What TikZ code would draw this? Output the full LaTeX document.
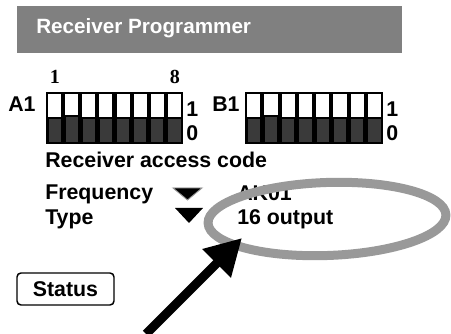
\documentclass[tikz,border=0pt]{standalone}
\usepackage{fontspec}
\setmainfont{Liberation Sans}
\newfontfamily\serifdigits{Liberation Serif}
\usetikzlibrary{arrows.meta}

\definecolor{bargray}{RGB}{128,128,128}
\definecolor{ringgray}{RGB}{153,153,153}
\definecolor{knobdark}{RGB}{58,58,58}

\begin{document}
\begin{tikzpicture}[x=0.75pt,y=0.75pt,yscale=-1,xscale=1,
  lbl/.style={anchor=base west,inner sep=0pt,font=\fontsize{16}{18}\selectfont\bfseries},
  swnum/.style={anchor=base,inner sep=0pt,font=\fontsize{15}{16}\serifdigits\bfseries},
  swup/.style={fill=white},
  swdown/.style={fill=knobdark}]
%set diagram to 451 x 334
\useasboundingbox (0,0) rectangle (451,334);

%Shape: Rectangle [title bar]
\fill [bargray] (17,6) rectangle (402,53);
\node [lbl,text=white,font=\fontsize{15.5}{18}\selectfont\bfseries] (title) at (36,34) {Receiver Programmer};

%Text [switch positions]
\node [swnum] (first) at (55,84) {1};
\node [swnum] (last) at (175,84) {8};

%Shape: Rectangle [A1 switch block]
\node [lbl] (labA) at (8,112) {A1};
\fill [black] (46,92) rectangle (183,144);
\fill [swup] (48,94) rectangle (61,117);    \fill [swdown] (48.5,119) rectangle (60.5,142);
\fill [swup] (65.1,94) rectangle (78.1,115.5); \fill [swdown] (65.6,117.5) rectangle (77.6,142);
\fill [swup] (82.2,94) rectangle (95.2,117); \fill [swdown] (82.7,119) rectangle (94.7,142);
\fill [swup] (99.4,94) rectangle (112.4,117); \fill [swdown] (99.9,119) rectangle (111.9,142);
\fill [swup] (116.5,94) rectangle (129.5,117); \fill [swdown] (117,119) rectangle (129,142);
\fill [swup] (133.6,94) rectangle (146.6,117); \fill [swdown] (134.1,119) rectangle (146.1,142);
\fill [swup] (150.7,94) rectangle (163.7,117); \fill [swdown] (151.2,119) rectangle (163.2,142);
\fill [swup] (167.9,94) rectangle (181,117); \fill [swdown] (168.4,119) rectangle (180.5,142);
\node [lbl] (onA) at (186,117) {1};
\node [lbl] (offA) at (186,141) {0};

%Shape: Rectangle [B1 switch block]
\node [lbl] (labB) at (212,112) {B1};
\fill [black] (245,92) rectangle (383,144);
\fill [swup] (247,94) rectangle (260.3,117); \fill [swdown] (247.5,119) rectangle (259.8,142);
\fill [swup] (264.3,94) rectangle (277.5,115.5); \fill [swdown] (264.8,117.5) rectangle (277,142);
\fill [swup] (281.5,94) rectangle (294.8,117); \fill [swdown] (282,119) rectangle (294.3,142);
\fill [swup] (298.8,94) rectangle (312,117); \fill [swdown] (299.3,119) rectangle (311.5,142);
\fill [swup] (316,94) rectangle (329.3,117); \fill [swdown] (316.5,119) rectangle (328.8,142);
\fill [swup] (333.3,94) rectangle (346.5,117); \fill [swdown] (333.8,119) rectangle (346,142);
\fill [swup] (350.5,94) rectangle (363.8,117); \fill [swdown] (351,119) rectangle (363.3,142);
\fill [swup] (367.8,94) rectangle (381,117); \fill [swdown] (368.3,119) rectangle (380.5,142);
\node [lbl] (onB) at (386,117) {1};
\node [lbl] (offB) at (386,141) {0};

%Text [settings]
\node [lbl] (code) at (45,168) {Receiver access code};
\node [lbl] (freq) at (45,200) {Frequency};
\node [lbl] (type) at (45,225) {Type};
\node [lbl] (freqval) at (237,201) {AK01};
\node [lbl] (typeval) at (237,225) {16 output};

%Shape: Triangle [drop-down markers]
\draw [ringgray,fill=black,line width=0.7pt] (173,188) -- (202,188) -- (187.5,200) -- cycle;
\fill [black] (175,208) -- (203,208) -- (189,223) -- cycle;

%Shape: Ellipse [highlight ring]
\draw [ringgray,line width=6.75pt,rotate around={-2:(327,219)}] (327,219) ellipse (119 and 36.5);

%Shape: Rounded Rectangle [status button]
\draw [line width=1.1pt,rounded corners=3pt] (17,273) rectangle (114,305);
\node [lbl,anchor=center] (status) at (65.5,289) {Status};

%Straight Lines [pointer]
\coordinate (tail) at (146,334);
\coordinate (tip) at (242,238);
\draw [line width=6.75pt,-{Triangle[length=27pt,width=28.5pt]}] (tail) -- (tip);

\end{tikzpicture}
\end{document}
